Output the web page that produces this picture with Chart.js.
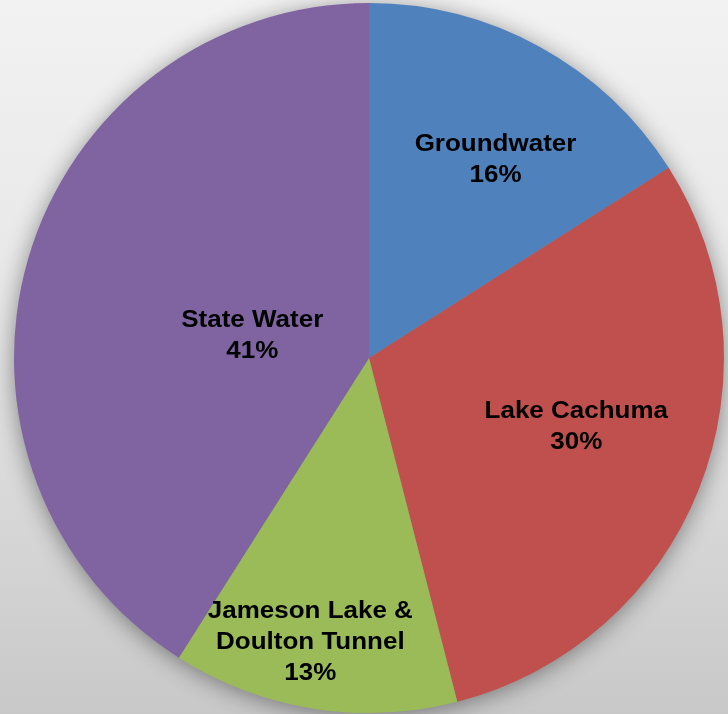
<!DOCTYPE html>
<html>
<head>
<meta charset="utf-8">
<script src="https://cdn.jsdelivr.net/npm/chart.js@4/dist/chart.umd.min.js"></script>
<style>
html,body{margin:0;padding:0;}
#wrap{width:728px;height:714px;position:relative;background:linear-gradient(to bottom,#f2f2f2 0%,#e6e6e6 45%,#c8c8c8 100%);}
</style>
</head>
<body>
<div id="wrap"><canvas id="c"></canvas></div>
<script>
const categories = ["Groundwater", "Lake Cachuma", "Jameson Lake &\nDoulton Tunnel", "State Water"];
const shares = [16, 30, 13, 41];
const sliceColors = ["#4F81BD", "#C0504D", "#9BBB59", "#8064A2"];
// label placement: [fraction of radius, angle in degrees clockwise from top]
const labelPlacement = [[0.665, 32.4], [0.615, 108.3], [0.815, 191.7], [0.335, 281]];

const shadowPlugin = {
  id: 'shadow',
  beforeDatasetsDraw(chart) {
    const arc = chart.getDatasetMeta(0).data[0];
    if (!arc) return;
    const ctx = chart.ctx;
    ctx.save();
    ctx.shadowColor = 'rgba(0,0,0,0.45)';
    ctx.shadowBlur = 24;
    ctx.shadowOffsetX = 0;
    ctx.shadowOffsetY = 3;
    ctx.fillStyle = '#888';
    ctx.beginPath();
    ctx.arc(arc.x, arc.y, arc.outerRadius - 1, 0, Math.PI * 2);
    ctx.fill();
    ctx.restore();
  }
};

const labelPlugin = {
  id: 'sliceLabels',
  afterDatasetsDraw(chart) {
    const meta = chart.getDatasetMeta(0);
    const ctx = chart.ctx;
    meta.data.forEach((arc, i) => {
      const [f, deg] = labelPlacement[i];
      const a = deg * Math.PI / 180;
      const cx = arc.x + Math.sin(a) * arc.outerRadius * f;
      const cy = arc.y - Math.cos(a) * arc.outerRadius * f;
      const lines = categories[i].split('\n').concat([shares[i] + '%']);
      const lh = 31;
      const start = cy - (lines.length - 1) * lh / 2;
      lines.forEach((t, k) => {
        ctx.save();
        ctx.font = 'bold 23px "Liberation Sans", Arial, sans-serif';
        ctx.fillStyle = '#000';
        ctx.textAlign = 'center';
        ctx.textBaseline = 'middle';
        ctx.translate(cx, start + k * lh + 1);
        ctx.scale(1.13, 1);
        ctx.fillText(t, 0, 0);
        ctx.restore();
      });
    });
  }
};

new Chart(document.getElementById('c'), {
  type: 'pie',
  data: {
    labels: categories,
    datasets: [{
      data: shares,
      backgroundColor: sliceColors,
      borderWidth: 0
    }]
  },
  options: {
    responsive: true,
    maintainAspectRatio: false,
    animation: false,
    layout: { padding: { left: 10, right: 0, top: 3, bottom: 1 } },
    plugins: { legend: { display: false }, tooltip: { enabled: false } }
  },
  plugins: [shadowPlugin, labelPlugin]
});
</script>
</body>
</html>
